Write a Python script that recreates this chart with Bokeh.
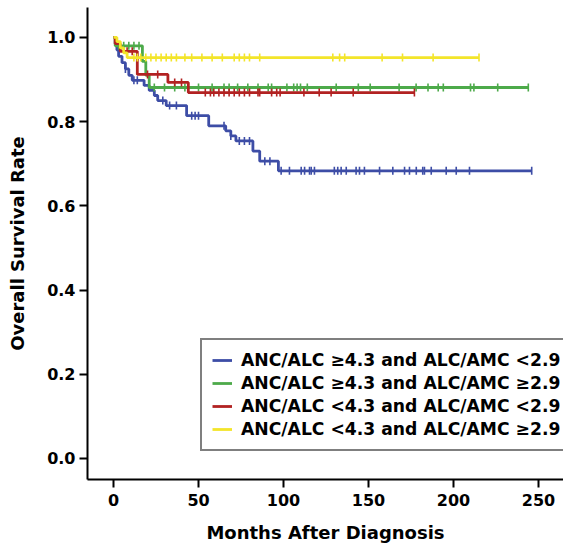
import numpy as np
from bokeh.plotting import figure
from bokeh.models import Legend, LegendItem, FixedTicker, PrintfTickFormatter, Range1d
from bokeh.embed import file_html
from bokeh.resources import INLINE

# ---- data ----
labels = [
    "ANC/ALC \u22654.3 and ALC/AMC <2.9",
    "ANC/ALC \u22654.3 and ALC/AMC \u22652.9",
    "ANC/ALC <4.3 and ALC/AMC <2.9",
    "ANC/ALC <4.3 and ALC/AMC \u22652.9",
]
colors = ["#3D4DA6", "#4DAA4A", "#B22222", "#F3E52A"]

blue_t = [0, 1, 2, 3, 5, 7, 9, 11, 18, 21, 24, 26, 31, 43, 56, 66, 69, 72, 82, 86, 97, 246]
blue_s = [1.0, 0.985, 0.97, 0.955, 0.94, 0.925, 0.91, 0.898, 0.886, 0.874, 0.862, 0.85,
          0.838, 0.814, 0.79, 0.778, 0.766, 0.754, 0.73, 0.706, 0.683, 0.683]
blue_c = [7, 12, 14, 29, 33, 37, 46, 48, 50, 65, 69, 74, 77, 80, 89, 92, 98.6, 103.5, 110.4,
          112.4, 115.3, 116.3, 118.2, 129.9, 131.9, 133.9, 136.9, 142.7, 144.7, 147.6, 156.5,
          164.3, 171.2, 174.1, 178.1, 181.9, 182.9, 186.9, 195.7, 201.6, 209.4, 246]

green_t = [0, 1, 17, 19, 21, 244]
green_s = [1.0, 0.98, 0.943, 0.91, 0.881, 0.881]
green_c = [3, 6, 9, 12, 15, 24, 30, 36, 42, 50, 58, 65, 68, 73, 79, 85, 91, 93, 102, 106, 108,
           110, 114, 131, 144, 151, 168, 178, 185, 191, 194, 210, 212, 226, 244]

red_t = [0, 1, 4, 14, 32, 44, 177]
red_s = [1.0, 0.985, 0.967, 0.912, 0.893, 0.869, 0.869]
red_c = [8, 11, 20, 26, 36, 40, 54, 57, 59, 62, 65, 68, 71, 74, 77, 80, 85, 86, 93, 96, 98,
         112, 121, 128, 141, 177]

yellow_t = [0, 2, 4, 6, 8, 215]
yellow_s = [1.0, 0.99, 0.975, 0.963, 0.952, 0.952]
yellow_c = [12, 14, 16, 19, 22, 25, 28, 31, 34, 37, 42, 46, 52, 58, 64, 71, 74, 77, 80, 86,
            129, 133, 136, 158, 170, 188, 215]

x_ticks = [0, 50, 100, 150, 200, 250]
y_ticks = [0.0, 0.2, 0.4, 0.6, 0.8, 1.0]

FONT = "DejaVu Sans"

p = figure(width=563, height=546, output_backend="svg", toolbar_location=None,
           x_range=Range1d(-15.3, 264.7), y_range=Range1d(-0.05, 1.071),
           min_border_left=87, min_border_right=0, min_border_top=7, min_border_bottom=67)
p.outline_line_color = None
p.grid.visible = False
p.background_fill_color = "white"

series = [(blue_t, blue_s, blue_c), (green_t, green_s, green_c),
          (red_t, red_s, red_c), (yellow_t, yellow_s, yellow_c)]
items = []
for (t, s, c), col, lab in zip(series, colors, labels):
    r = p.step(t, s, mode="after", line_color=col, line_width=2.8)
    t_arr = np.array(t, dtype=float)
    s_arr = np.array(s, dtype=float)
    idx = np.clip(np.searchsorted(t_arr, np.array(c, dtype=float), side="right") - 1, 0, len(s_arr) - 1)
    p.scatter(c, s_arr[idx], marker="dash", angle=np.pi / 2, size=8,
              line_color=col, line_width=1.6)
    items.append(LegendItem(label=lab, renderers=[r]))

legend = Legend(items=items, location=(113, 28), orientation="vertical")
legend.border_line_color = "black"
legend.border_line_width = 2
legend.background_fill_alpha = 1
legend.padding = 10
legend.spacing = 3
legend.glyph_width = 20
legend.label_standoff = 9
legend.label_height = 20
legend.label_text_font = FONT
legend.label_text_font_style = "bold"
legend.label_text_font_size = "17.2px"
legend.label_text_color = "black"
legend.margin = 0
p.add_layout(legend, "center")

for ax in (p.xaxis[0], p.yaxis[0]):
    ax.axis_line_width = 2
    ax.axis_line_color = "black"
    ax.major_tick_line_width = 2
    ax.major_tick_line_color = "black"
    ax.major_tick_out = 8
    ax.major_tick_in = 0
    ax.minor_tick_line_color = None
    ax.major_label_text_font = FONT
    ax.major_label_text_font_style = "bold"
    ax.major_label_text_font_size = "16px"
    ax.major_label_text_color = "black"
    ax.axis_label_text_font = FONT
    ax.axis_label_text_font_style = "bold"
    ax.axis_label_text_font_size = "18px"
    ax.axis_label_text_color = "black"

p.xaxis.ticker = FixedTicker(ticks=x_ticks)
p.yaxis.ticker = FixedTicker(ticks=y_ticks)
p.yaxis.formatter = PrintfTickFormatter(format="%.1f")
p.xaxis.axis_label = "Months After Diagnosis"
p.yaxis.axis_label = "Overall Survival Rate"
p.xaxis.major_label_standoff = 6
p.xaxis.axis_label_standoff = 13
p.yaxis.major_label_standoff = 4
p.yaxis.axis_label_standoff = 16

open("out.html", "w").write(file_html(p, INLINE))
